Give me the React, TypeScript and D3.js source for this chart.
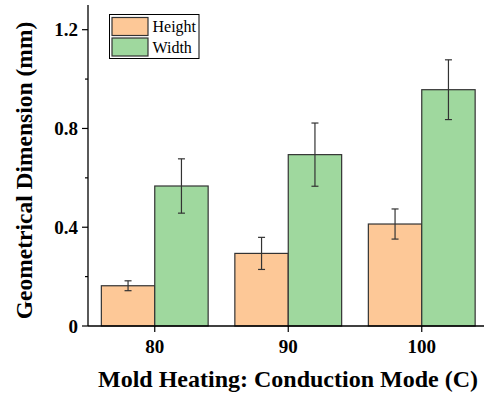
import React from "react";
import * as d3 from "d3";

const categories = ["80", "90", "100"];
const heightValues = [0.163, 0.294, 0.413];
const heightErrors = [0.02, 0.065, 0.061];
const widthValues = [0.567, 0.694, 0.957];
const widthErrors = [0.11, 0.128, 0.121];
const majorTicks = [0, 0.4, 0.8, 1.2];
const minorTicks = [0.2, 0.6, 1.0];
const seriesNames = ["Height", "Width"];
const colors = ["#FDC897", "#9FD89E"];

const W = 484;
const H = 398;
const left = 88;
const top = 5;
const bottom = 326;
const step = 133.5;

export default function App() {
  const x = d3
    .scaleBand<string>()
    .domain(categories)
    .range([left, left + step * categories.length])
    .paddingInner(0.2)
    .paddingOuter(0.1);
  const y = d3.scaleLinear().domain([0, 1.3]).range([bottom, top]);
  const bw = x.bandwidth() / 2;
  const series = [
    { name: seriesNames[0], values: heightValues, errors: heightErrors, color: colors[0] },
    { name: seriesNames[1], values: widthValues, errors: widthErrors, color: colors[1] },
  ];
  const font = "'Liberation Serif', 'Times New Roman', serif";
  return (
    <svg width={W} height={H} style={{ position: "absolute", left: 0, top: 0 }} fontFamily={font}>
      <rect width={W} height={H} fill="#fff" />
      {series.map((s, si) =>
        categories.map((c, i) => {
          const x0 = (x(c) as number) + si * bw;
          const yv = y(s.values[i]);
          return (
            <rect
              key={s.name + c}
              x={x0}
              y={yv}
              width={bw}
              height={bottom - yv}
              fill={s.color}
              stroke="#333"
              strokeWidth={1.2}
            />
          );
        })
      )}
      {series.map((s, si) =>
        categories.map((c, i) => {
          const cx = (x(c) as number) + si * bw + bw / 2;
          const y1 = y(s.values[i] + s.errors[i]);
          const y2 = y(s.values[i] - s.errors[i]);
          return (
            <g key={"e" + s.name + c} stroke="#333" strokeWidth={1.2}>
              <line x1={cx} x2={cx} y1={y1} y2={y2} />
              <line x1={cx - 3.5} x2={cx + 3.5} y1={y1} y2={y1} />
              <line x1={cx - 3.5} x2={cx + 3.5} y1={y2} y2={y2} />
            </g>
          );
        })
      )}
      {/* axes */}
      <line x1={left} x2={left} y1={top} y2={bottom} stroke="#000" strokeWidth={1.3} />
      <line x1={left} x2={W} y1={bottom} y2={bottom} stroke="#000" strokeWidth={1.3} />
      {majorTicks.map((t) => (
        <g key={"mt" + t}>
          <line x1={left - 6} x2={left} y1={y(t)} y2={y(t)} stroke="#000" strokeWidth={1.2} />
          <text
            x={78}
            y={y(t)}
            textAnchor="end"
            dominantBaseline="central"
            fontSize={19}
            fontWeight="bold"
          >
            {t === 0 ? "0" : t.toFixed(1)}
          </text>
        </g>
      ))}
      {minorTicks.map((t) => (
        <line key={"mn" + t} x1={left - 3} x2={left} y1={y(t)} y2={y(t)} stroke="#000" strokeWidth={1.2} />
      ))}
      {categories.map((c) => {
        const cx = (x(c) as number) + x.bandwidth() / 2;
        return (
          <g key={"xt" + c}>
            <line x1={cx} x2={cx} y1={bottom} y2={bottom + 6} stroke="#000" strokeWidth={1.2} />
            <text x={cx} y={352.5} textAnchor="middle" fontSize={19} fontWeight="bold">
              {c}
            </text>
          </g>
        );
      })}
      <text x={288} y={387} textAnchor="middle" fontSize={24} fontWeight="bold">
        Mold Heating: Conduction Mode (C)
      </text>
      <text
        transform={`translate(32,170.5) rotate(-90)`}
        textAnchor="middle"
        fontSize={23.5}
        fontWeight="bold"
      >
        Geometrical Dimension (mm)
      </text>
      {/* legend */}
      <rect x={109.5} y={14.5} width={89.5} height={44} fill="#fff" stroke="#000" strokeWidth={1} />
      {series.map((s, i) => (
        <g key={"lg" + s.name}>
          <rect x={112} y={17.5 + i * 20.5} width={36} height={18} fill={s.color} stroke="#333" strokeWidth={1.2} />
          <text x={152.5} y={32 + i * 20.5} fontSize={16}>
            {s.name}
          </text>
        </g>
      ))}
    </svg>
  );
}
